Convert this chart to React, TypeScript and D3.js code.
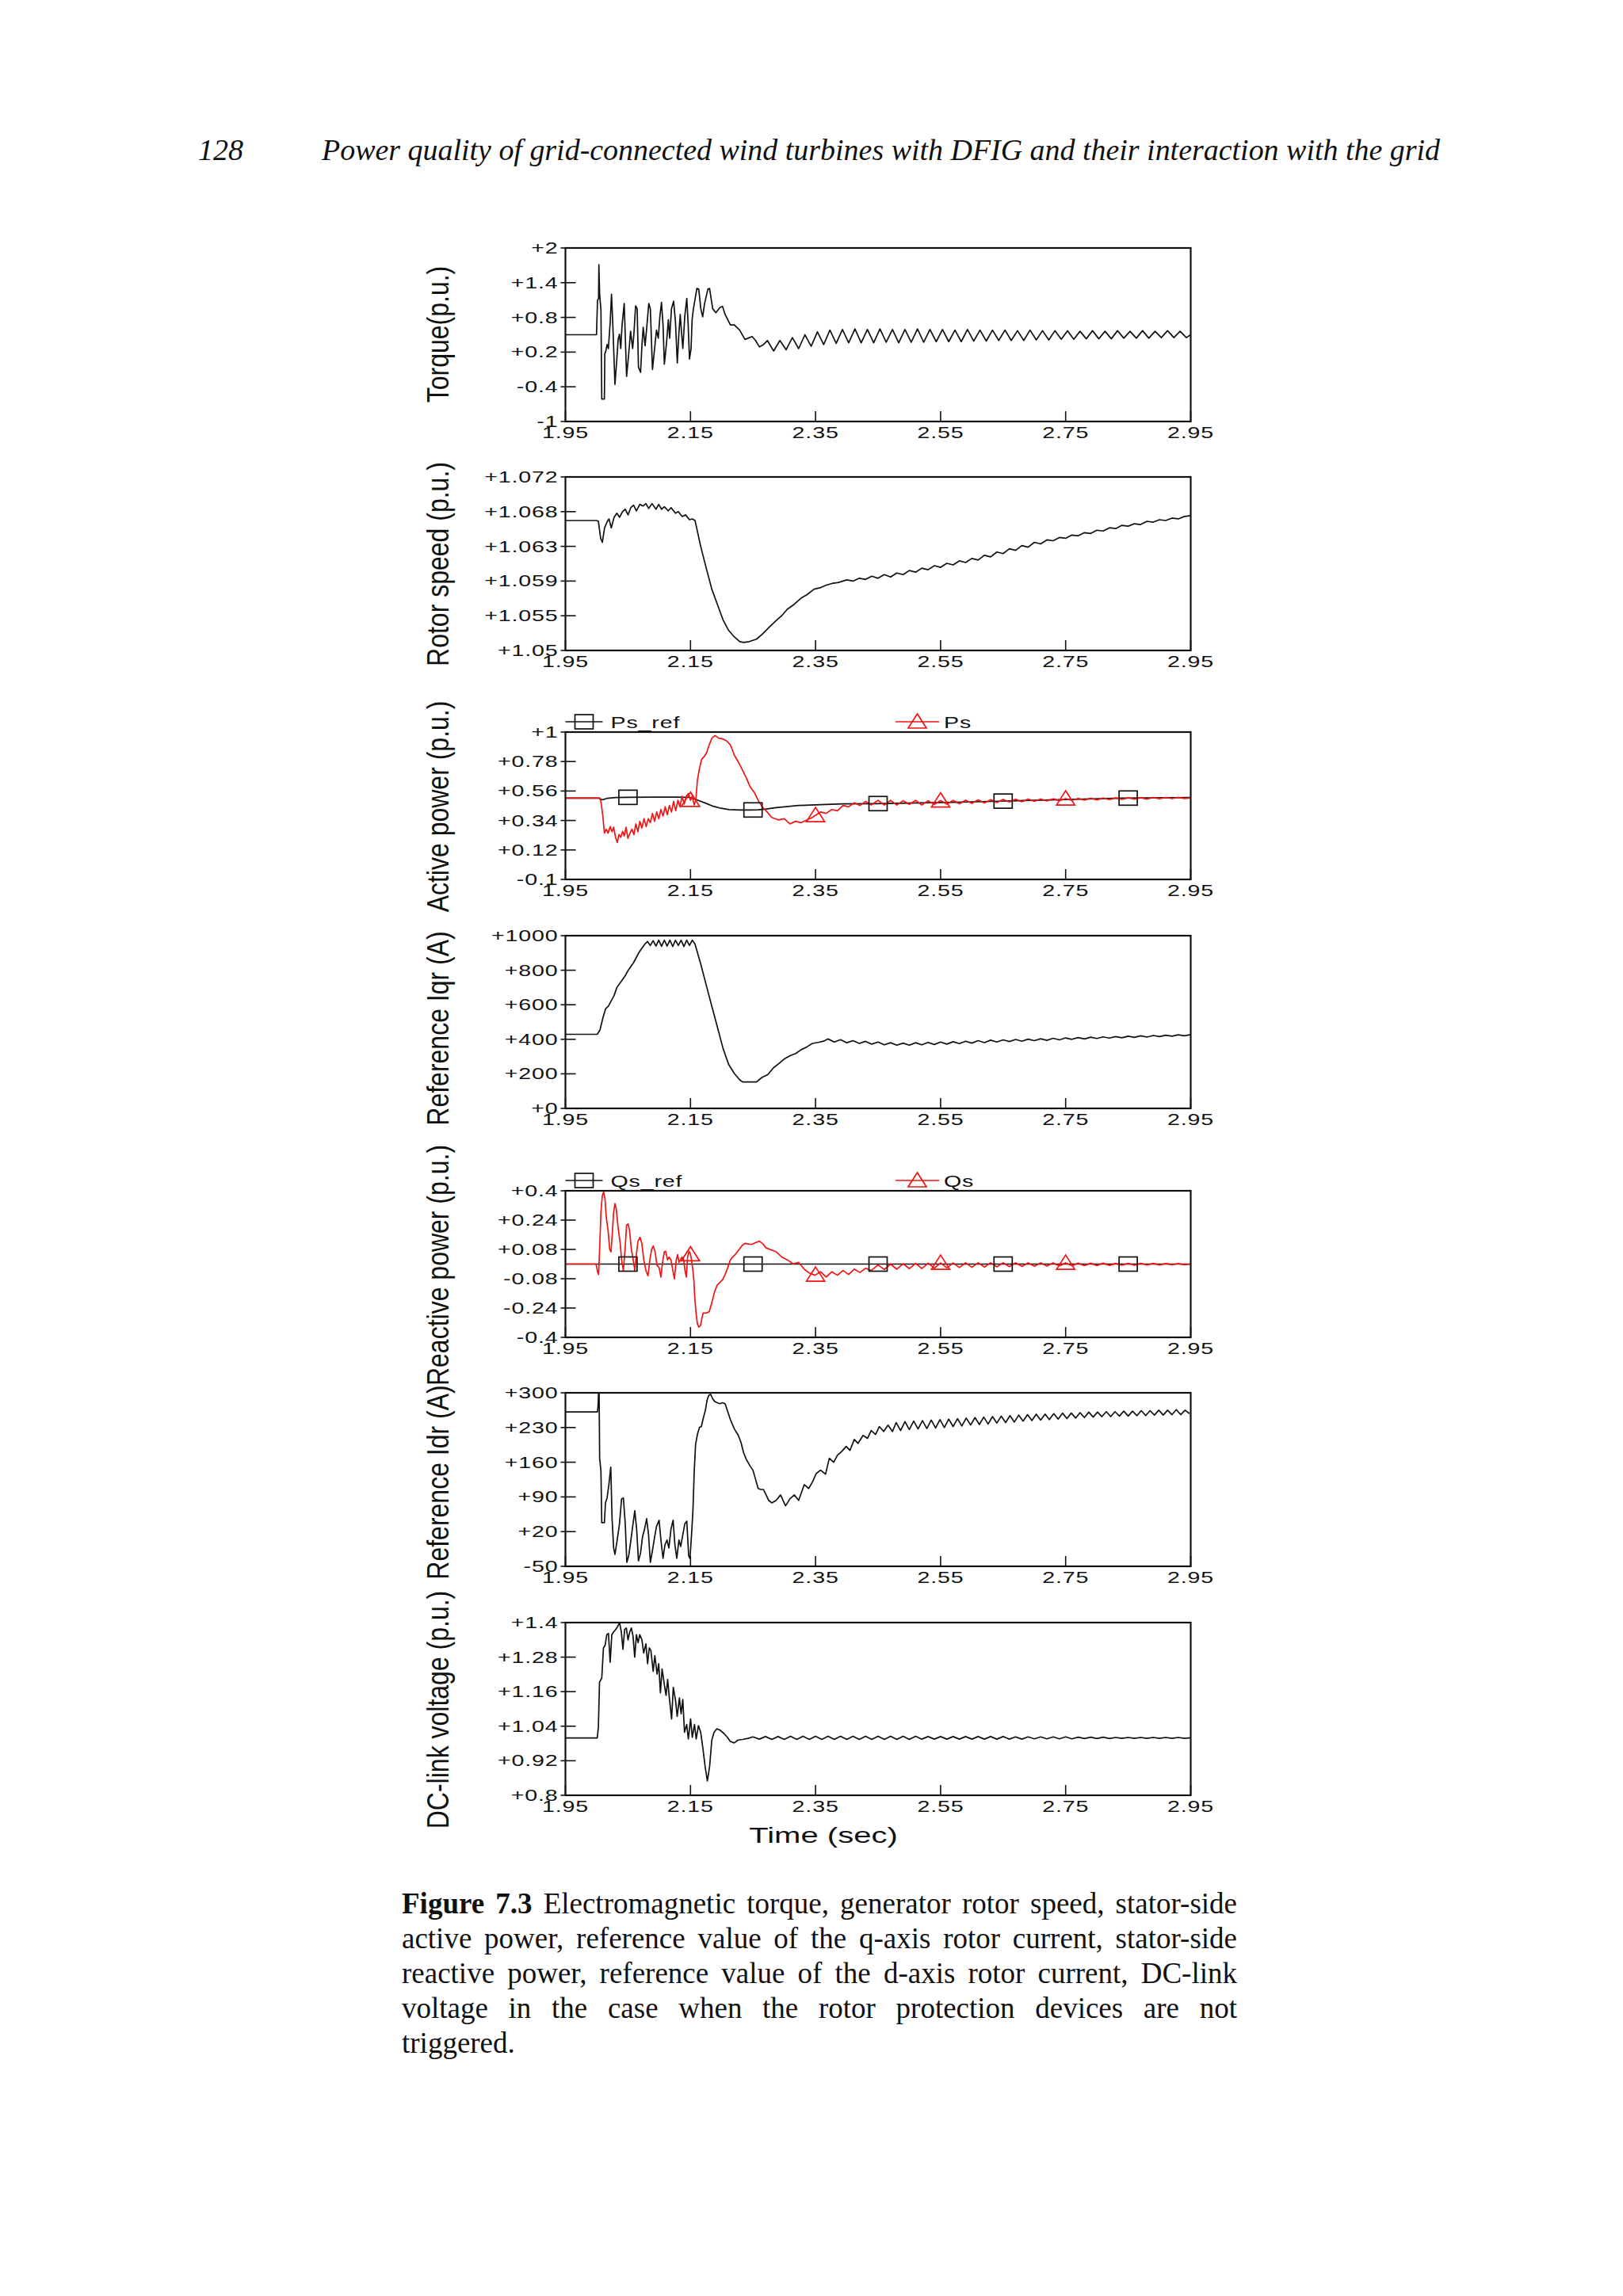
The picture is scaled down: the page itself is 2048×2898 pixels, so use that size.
import React from "react";
import * as d3 from "d3";

type Pt = [number, number];

// ---------- shared time axis ----------
const timeDomain: [number, number] = [1.95, 2.95];
const timeTicks = [1.95, 2.15, 2.35, 2.55, 2.75, 2.95];
const timeTickLabels = ["1.95", "2.15", "2.35", "2.55", "2.75", "2.95"];

// ---------- y axis ticks ----------
const torqueTicks = [2, 1.4, 0.8, 0.2, -0.4, -1];
const torqueTickLabels = ["+2", "+1.4", "+0.8", "+0.2", "-0.4", "-1"];
const speedTicks = [1.072, 1.0677, 1.0634, 1.0591, 1.0548, 1.0505];
const speedTickLabels = ["+1.072", "+1.068", "+1.063", "+1.059", "+1.055", "+1.05"];
const psTicks = [1, 0.78, 0.56, 0.34, 0.12, -0.1];
const psTickLabels = ["+1", "+0.78", "+0.56", "+0.34", "+0.12", "-0.1"];
const iqrTicks = [1000, 800, 600, 400, 200, 0];
const iqrTickLabels = ["+1000", "+800", "+600", "+400", "+200", "+0"];
const qsTicks = [0.4, 0.24, 0.08, -0.08, -0.24, -0.4];
const qsTickLabels = ["+0.4", "+0.24", "+0.08", "-0.08", "-0.24", "-0.4"];
const idrTicks = [300, 230, 160, 90, 20, -50];
const idrTickLabels = ["+300", "+230", "+160", "+90", "+20", "-50"];
const dcTicks = [1.4, 1.28, 1.16, 1.04, 0.92, 0.8];
const dcTickLabels = ["+1.4", "+1.28", "+1.16", "+1.04", "+0.92", "+0.8"];

// ---------- electromagnetic torque ----------
const torqueEarly: Pt[] = [
  [1.95, 0.5], [1.9997, 0.5], [2.0013, 1.1], [2.003, 1.12], [2.0035, 1.71], [2.0047, 1.2],
  [2.0068, 0.92], [2.0081, -0.61], [2.0123, -0.61], [2.013, 0.17], [2.0144, 0.21], [2.0166, 0.33],
  [2.0187, 0.26], [2.0216, 0.72], [2.0237, 1.2], [2.0258, 0.67], [2.0292, -0.36], [2.0322, 0.08],
  [2.0343, 0.42], [2.0364, 0.51], [2.0385, 0.26], [2.0406, 0.67], [2.044, 1.04], [2.0478, -0.22],
  [2.0512, 0.17], [2.0542, 0.56], [2.0575, 0.26], [2.0596, 0.53], [2.0622, 1.0], [2.0647, 0.95],
  [2.0668, -0.06], [2.0702, -0.15], [2.0723, 0.31], [2.0744, 0.63], [2.0774, 0.31], [2.0808, 0.72],
  [2.0833, 1.04], [2.0858, 0.95], [2.0892, -0.1], [2.0926, 0.26], [2.0956, 0.58], [2.0985, 0.44],
  [2.101, 0.81], [2.1036, 1.06], [2.1061, 0.67], [2.1082, -0.01], [2.1116, 0.35], [2.1146, 0.76],
  [2.1167, 0.44], [2.1196, 0.95], [2.123, 1.08], [2.126, 0.72], [2.1289, 0.01], [2.1315, 0.53],
  [2.1336, 0.85], [2.1357, 0.53], [2.1378, 0.26], [2.1408, 0.81], [2.1441, 1.13], [2.1463, 0.67],
  [2.1484, 0.08], [2.1509, 0.26], [2.1526, 0.76], [2.1547, 0.95], [2.1568, 1.08], [2.1602, 1.3],
  [2.1632, 1.29], [2.1665, 0.95], [2.1695, 0.81], [2.1725, 1.04], [2.1779, 1.29], [2.1805, 1.3],
  [2.1855, 0.95], [2.1906, 0.88], [2.197, 0.97], [2.2012, 0.99], [2.2054, 0.85], [2.2138, 0.67],
  [2.2202, 0.67], [2.2286, 0.58], [2.2371, 0.42], [2.2422, 0.44], [2.2485, 0.47], [2.254, 0.4],
  [2.2603, 0.29], [2.2667, 0.33], [2.273, 0.4],
];
const torqueTailStart = 2.283;
const torqueTail = [
  0.22, 0.4, 0.24, 0.45, 0.26, 0.5, 0.3, 0.55, 0.33, 0.58, 0.35, 0.59, 0.36, 0.6, 0.36, 0.59, 0.36,
  0.6, 0.37, 0.59, 0.36, 0.59, 0.37, 0.6, 0.37, 0.59, 0.38, 0.59, 0.38, 0.58, 0.38, 0.59, 0.39, 0.58,
  0.39, 0.58, 0.4, 0.58, 0.4, 0.57, 0.4, 0.58, 0.41, 0.57, 0.41, 0.57, 0.42, 0.57, 0.42, 0.56, 0.43,
  0.57, 0.43, 0.56, 0.43, 0.57, 0.44, 0.56, 0.44, 0.57, 0.44, 0.56, 0.45, 0.57, 0.45, 0.56, 0.45,
];
const torqueEnd: Pt[] = [[2.95, 0.5]];

// ---------- rotor speed ----------
const speedEarly: Pt[] = [
  [1.95, 1.0666], [2.0, 1.0666], [2.0027, 1.0665], [2.0063, 1.0644], [2.009, 1.0639], [2.0126, 1.0657],
  [2.017, 1.0665], [2.0197, 1.0668], [2.0233, 1.0657], [2.0278, 1.067], [2.0322, 1.0675], [2.0367, 1.067],
  [2.0412, 1.0677], [2.0456, 1.068], [2.0501, 1.0673], [2.0546, 1.0682], [2.059, 1.0685], [2.0635, 1.0678],
  [2.0689, 1.0686], [2.0742, 1.0684], [2.0787, 1.0687], [2.0832, 1.0681], [2.0885, 1.0687], [2.0948, 1.068],
  [2.0992, 1.0686], [2.1037, 1.068], [2.1082, 1.0683], [2.1144, 1.0678], [2.1189, 1.0682], [2.126, 1.0675],
  [2.1305, 1.0677], [2.1368, 1.0671], [2.1421, 1.0673], [2.1484, 1.0667], [2.1529, 1.0668], [2.1573, 1.0666],
  [2.1663, 1.0634], [2.1752, 1.0607], [2.1841, 1.0581], [2.1931, 1.0562], [2.202, 1.0543], [2.2109, 1.053],
  [2.2199, 1.0522], [2.2288, 1.0516], [2.2351, 1.0515], [2.244, 1.0516], [2.2556, 1.0519], [2.2646, 1.0525],
  [2.2762, 1.0534], [2.2869, 1.0542], [2.2958, 1.0548], [2.3048, 1.0556], [2.3155, 1.0562], [2.3271, 1.057],
  [2.3361, 1.0574], [2.3477, 1.0581], [2.3584, 1.0583], [2.3673, 1.0586], [2.3763, 1.0588], [2.3852, 1.0589],
];
const speedTailStart = 2.39;
const speedTail = [
  1.059, 1.05925, 1.0591, 1.05945, 1.0593, 1.0597, 1.05945, 1.0599, 1.0596, 1.0601,
  1.0599, 1.0604, 1.0602, 1.0607, 1.0605, 1.061, 1.0608, 1.0613, 1.0611, 1.0616,
  1.0614, 1.0619, 1.0617, 1.0623, 1.0621, 1.0627, 1.0625, 1.0631, 1.0629, 1.0635,
  1.0633, 1.0639, 1.0637, 1.0642, 1.0641, 1.0645, 1.0644, 1.0648, 1.0647, 1.0651,
  1.065, 1.0654, 1.0653, 1.0657, 1.0656, 1.066, 1.0659, 1.0662, 1.0661, 1.0665,
  1.0664, 1.0667, 1.0666, 1.0669, 1.0668, 1.0671, 1.0672,
];

// ---------- stator active power ----------
const psRef: Pt[] = [
  [1.95, 0.507], [2.0047, 0.507], [2.0068, 0.497], [2.0098, 0.495], [2.0166, 0.505], [2.03, 0.511],
  [2.05, 0.513], [2.09, 0.514], [2.13, 0.514], [2.148, 0.512], [2.161, 0.493], [2.1737, 0.47],
  [2.1864, 0.446], [2.199, 0.431], [2.2117, 0.421], [2.2286, 0.418], [2.2455, 0.418], [2.2582, 0.42],
  [2.2709, 0.426], [2.287, 0.436], [2.323, 0.452], [2.358, 0.458], [2.394, 0.464], [2.448, 0.466],
  [2.484, 0.468], [2.573, 0.476], [2.662, 0.486], [2.752, 0.497], [2.841, 0.507], [2.95, 0.511],
];
const psEarly: Pt[] = [
  [1.95, 0.507], [2.0047, 0.507], [2.0068, 0.48], [2.0098, 0.373], [2.0123, 0.245], [2.0153, 0.275],
  [2.0182, 0.245], [2.0216, 0.294], [2.0246, 0.255], [2.0271, 0.29], [2.0301, 0.215], [2.033, 0.176],
  [2.0356, 0.235], [2.0385, 0.215], [2.0415, 0.259], [2.044, 0.225], [2.047, 0.29], [2.0499, 0.206],
  [2.0533, 0.245], [2.0563, 0.275], [2.0596, 0.235], [2.0626, 0.314], [2.066, 0.255], [2.0689, 0.334],
  [2.0723, 0.284], [2.0757, 0.353], [2.0791, 0.294], [2.0825, 0.353], [2.0858, 0.324], [2.0892, 0.393],
  [2.0926, 0.334], [2.096, 0.403], [2.0994, 0.353], [2.1027, 0.422], [2.1061, 0.373], [2.1095, 0.442],
  [2.1129, 0.383], [2.1163, 0.452], [2.1196, 0.403], [2.123, 0.482], [2.1264, 0.413], [2.1298, 0.491],
  [2.1332, 0.442], [2.1365, 0.521], [2.1399, 0.462], [2.1433, 0.521], [2.1467, 0.541], [2.1501, 0.491],
  [2.1526, 0.521], [2.156, 0.456], [2.1585, 0.491], [2.161, 0.639], [2.1644, 0.728], [2.1678, 0.797],
  [2.172, 0.817], [2.1758, 0.846], [2.18, 0.905], [2.1843, 0.955], [2.1894, 0.974], [2.1948, 0.955],
  [2.2012, 0.949], [2.2075, 0.935], [2.2138, 0.905], [2.2202, 0.827], [2.2265, 0.777], [2.2329, 0.718],
  [2.2392, 0.659], [2.2455, 0.59], [2.2519, 0.551], [2.2582, 0.491], [2.2645, 0.442], [2.2709, 0.412],
  [2.28, 0.363], [2.291, 0.344], [2.3, 0.353], [2.309, 0.314], [2.318, 0.334], [2.327, 0.324],
  [2.336, 0.344], [2.345, 0.363], [2.358, 0.403], [2.367, 0.393], [2.376, 0.422], [2.385, 0.412],
  [2.394, 0.452], [2.403, 0.442], [2.412, 0.472], [2.421, 0.452], [2.43, 0.482], [2.439, 0.456],
];
const psTailStart = 2.45;
const psTail = [
  0.49, 0.455, 0.49, 0.455, 0.488, 0.46, 0.49, 0.455, 0.487, 0.46, 0.488, 0.462, 0.49, 0.465, 0.492,
  0.468, 0.494, 0.47, 0.495, 0.474, 0.497, 0.478, 0.498, 0.48, 0.5, 0.483, 0.5, 0.486, 0.502, 0.488,
  0.503, 0.49, 0.505, 0.492, 0.506, 0.494, 0.507, 0.496, 0.508, 0.498, 0.509, 0.5, 0.51, 0.5, 0.511,
  0.502, 0.512, 0.503, 0.512, 0.504, 0.508,
];

// ---------- reference Iqr ----------
const iqrEarly: Pt[] = [
  [1.95, 429], [2.0009, 429], [2.0054, 455], [2.0099, 524], [2.0143, 577], [2.0188, 592], [2.0233, 623],
  [2.0278, 653], [2.0322, 699], [2.0367, 722], [2.0412, 745], [2.0456, 768], [2.0501, 798], [2.0546, 821],
  [2.059, 844], [2.0635, 875], [2.068, 905], [2.0724, 928], [2.0769, 951], [2.0814, 966], [2.0858, 943],
  [2.0903, 971], [2.0948, 940], [2.0992, 974], [2.1037, 939], [2.1082, 974], [2.1126, 940], [2.1171, 974],
  [2.1216, 937], [2.126, 974], [2.1305, 943], [2.135, 974], [2.1395, 937], [2.1439, 974], [2.1484, 943],
  [2.1529, 974], [2.1573, 951], [2.1663, 837], [2.1752, 714], [2.1841, 592], [2.1931, 470], [2.202, 348],
  [2.2109, 256], [2.2199, 203], [2.2288, 165], [2.2333, 153], [2.2556, 153], [2.2646, 180], [2.2735, 195],
  [2.2824, 234], [2.2914, 260], [2.3003, 287], [2.3093, 305], [2.3182, 318], [2.3271, 340], [2.3361, 356],
  [2.345, 376], [2.3539, 382], [2.3629, 389],
];
const iqrTailStart = 2.37;
const iqrTail = [
  402, 384, 398, 380, 392, 376, 388, 372, 384, 368, 380, 366, 378, 366, 380, 368, 382, 370, 384, 372,
  386, 375, 389, 378, 392, 381, 395, 384, 397, 387, 399, 389, 401, 392, 403, 394, 406, 397, 408, 400,
  410, 402, 412, 405, 414, 407, 416, 409, 418, 411, 420, 413, 422, 416, 424, 418, 426, 420, 427,
];

// ---------- stator reactive power ----------
const qsRef: Pt[] = [[1.95, 0], [2.95, 0]];
const qsEarly: Pt[] = [
  [1.95, 0], [1.9984, 0], [1.9997, -0.009], [2.0013, -0.042], [2.003, -0.057], [2.0047, 0.081],
  [2.0068, 0.284], [2.0089, 0.371], [2.011, 0.393], [2.0132, 0.357], [2.0153, 0.255], [2.0182, 0.183],
  [2.0208, 0.081], [2.0229, 0.067], [2.025, 0.168], [2.0271, 0.284], [2.0292, 0.33], [2.0313, 0.299],
  [2.0343, 0.197], [2.0377, 0.11], [2.0398, 0.023], [2.0427, -0.035], [2.0457, 0.096], [2.0478, 0.212],
  [2.0503, 0.219], [2.0525, 0.183], [2.0554, 0.081], [2.0584, 0.023], [2.0609, -0.035], [2.063, 0.038],
  [2.066, 0.125], [2.0694, 0.146], [2.0723, 0.11], [2.0753, 0.023], [2.0787, -0.035], [2.082, -0.064],
  [2.085, 0.023], [2.0879, 0.081], [2.0905, 0.099], [2.0934, 0.067], [2.0964, -0.006], [2.0998, -0.02],
  [2.1027, -0.071], [2.1053, 0.009], [2.1082, 0.067], [2.1103, 0.07], [2.1133, 0.023], [2.1158, 0.038],
  [2.1188, 0.023], [2.1218, -0.035], [2.1243, -0.081], [2.1272, 0.023], [2.1294, 0.052], [2.1315, 0.009],
  [2.134, 0.023], [2.1365, 0.038], [2.1391, 0.023], [2.1412, -0.035], [2.1433, -0.071], [2.1454, 0.038],
  [2.1475, 0.07], [2.1496, 0.059], [2.1517, 0.023], [2.1539, -0.035], [2.1555, -0.093], [2.1568, -0.18],
  [2.1589, -0.267], [2.161, -0.325], [2.1632, -0.344], [2.1661, -0.336], [2.1682, -0.296], [2.1703, -0.267],
  [2.1758, -0.267], [2.18, -0.259], [2.1843, -0.209], [2.1885, -0.151], [2.1927, -0.115], [2.197, -0.1],
  [2.2012, -0.086], [2.2054, -0.057], [2.2096, -0.02], [2.2138, 0.023], [2.2181, 0.041], [2.2223, 0.055],
  [2.2265, 0.074], [2.2329, 0.103], [2.2371, 0.113], [2.2422, 0.11], [2.2477, 0.107], [2.254, 0.117],
  [2.2603, 0.125], [2.2658, 0.11], [2.2709, 0.088], [2.287, 0.067], [2.296, 0.038], [2.305, 0.023],
  [2.314, 0.001], [2.323, 0.009], [2.332, -0.028], [2.34, -0.049], [2.349, -0.061], [2.358, -0.042],
  [2.367, -0.071], [2.376, -0.042], [2.385, -0.061], [2.394, -0.035], [2.403, -0.057], [2.412, -0.028],
  [2.421, -0.046], [2.43, -0.023], [2.439, -0.035],
];
const qsTailStart = 2.45;
const qsTail = [
  -0.005, -0.03, 0.0, -0.028, 0.002, -0.025, 0.004, -0.024, 0.005, -0.022, 0.006, -0.02, 0.006, -0.019,
  0.007, -0.018, 0.007, -0.016, 0.007, -0.015, 0.007, -0.014, 0.007, -0.013, 0.006, -0.012, 0.006,
  -0.011, 0.006, -0.01, 0.006, -0.009, 0.005, -0.008, 0.005, -0.008, 0.005, -0.007, 0.004, -0.006,
  0.004, -0.006, 0.004, -0.005, 0.004, -0.005, 0.003, -0.004, 0.003, -0.004, 0.0,
];

// ---------- reference Idr ----------
const idrEarly: Pt[] = [
  [1.95, 261.6], [2.0013, 261.6], [2.0022, 275], [2.003, 300], [2.0039, 297], [2.0047, 168], [2.0068, 142],
  [2.0081, 38], [2.0123, 38], [2.014, 78], [2.0166, 88], [2.0195, 115], [2.0225, 150], [2.0246, 46],
  [2.0271, -13], [2.0292, -26], [2.0322, -2], [2.0364, 35], [2.0398, 86], [2.0427, 88], [2.0457, 35],
  [2.0482, -42], [2.0512, -29], [2.0542, -2], [2.0575, 30], [2.0609, 62], [2.0639, 25], [2.0668, -39],
  [2.0702, -23], [2.0732, 9], [2.0765, 25], [2.0799, 46], [2.0829, 14], [2.0858, -42], [2.0892, -18],
  [2.0926, 9], [2.0956, 30], [2.0998, 43], [2.1027, 3], [2.1061, -34], [2.1091, -7], [2.1125, 3],
  [2.1154, -13], [2.1188, 25], [2.1222, 43], [2.1251, -7], [2.1281, -34], [2.1315, 3], [2.1344, -10],
  [2.1378, 14], [2.1408, 35], [2.1441, 41], [2.1471, -29], [2.1492, -34], [2.1517, 14], [2.1539, 62],
  [2.156, 142], [2.1581, 195], [2.161, 216], [2.1644, 230], [2.1674, 232], [2.1703, 248], [2.1737, 264],
  [2.1767, 286], [2.1792, 295], [2.1822, 297], [2.1855, 288], [2.1885, 283], [2.1927, 280], [2.197, 278],
  [2.2012, 280], [2.2054, 278], [2.2096, 262], [2.2138, 246], [2.2202, 227], [2.2265, 214], [2.2307, 200],
  [2.235, 179], [2.2392, 166], [2.2455, 152], [2.2498, 144], [2.254, 126], [2.2582, 107], [2.2624, 105],
  [2.2667, 105], [2.2709, 94], [2.2751, 83], [2.28, 78], [2.287, 83], [2.294, 94], [2.302, 72],
  [2.309, 86], [2.316, 94], [2.323, 83], [2.332, 115], [2.339, 107], [2.345, 120], [2.351, 137],
  [2.358, 144], [2.366, 136], [2.372, 168], [2.379, 160], [2.385, 174], [2.392, 182], [2.399, 192],
  [2.405, 184], [2.412, 206], [2.418, 198], [2.426, 214], [2.433, 208], [2.439, 224], [2.446, 216],
  [2.452, 232], [2.459, 222], [2.466, 235], [2.473, 222], [2.479, 240], [2.486, 224],
];
const idrTailStart = 2.493;
const idrTail = [
  242, 226, 243, 227, 244, 228, 245, 229, 246, 230, 247, 232, 248, 233, 249, 235, 250, 236, 251, 237,
  252, 239, 253, 240, 254, 241, 255, 243, 256, 244, 257, 245, 257, 246, 258, 247, 259, 248, 259, 249,
  260, 250, 261, 251, 261, 252, 262, 252, 262, 253, 263, 253, 263, 254, 264, 254, 264, 255, 265, 255,
  265, 256, 266, 256, 265, 258,
];

// ---------- DC-link voltage ----------
const dcEarly: Pt[] = [
  [1.95, 0.999], [2.0009, 0.999], [2.0027, 1.037], [2.0045, 1.193], [2.0081, 1.207], [2.0108, 1.312],
  [2.0135, 1.321], [2.0161, 1.358], [2.0188, 1.362], [2.0215, 1.262], [2.0242, 1.358], [2.0269, 1.367],
  [2.0304, 1.376], [2.0331, 1.385], [2.0367, 1.399], [2.0394, 1.367], [2.042, 1.307], [2.0447, 1.376],
  [2.0474, 1.381], [2.0501, 1.34], [2.0528, 1.367], [2.0555, 1.381], [2.0581, 1.353], [2.0608, 1.28],
  [2.0635, 1.358], [2.0662, 1.33], [2.0689, 1.358], [2.0724, 1.34], [2.0751, 1.294], [2.0787, 1.326],
  [2.0814, 1.257], [2.0841, 1.312], [2.0867, 1.303], [2.0903, 1.23], [2.093, 1.285], [2.0966, 1.221],
  [2.0992, 1.257], [2.1019, 1.156], [2.1046, 1.239], [2.1082, 1.184], [2.1109, 1.147], [2.1135, 1.202],
  [2.1162, 1.138], [2.1198, 1.065], [2.1225, 1.175], [2.1261, 1.129], [2.1287, 1.074], [2.1323, 1.138],
  [2.135, 1.083], [2.1377, 1.133], [2.1404, 1.019], [2.1439, 1.046], [2.1466, 0.996], [2.1502, 1.065],
  [2.1529, 1.001], [2.1564, 1.046], [2.1591, 0.996], [2.1627, 1.042], [2.1663, 1.019], [2.1698, 0.964],
  [2.1734, 0.9], [2.177, 0.85], [2.1806, 0.9], [2.1841, 0.992], [2.1877, 1.019], [2.1922, 1.031],
  [2.1975, 1.026], [2.2038, 1.014], [2.2092, 1.001], [2.2136, 0.987], [2.2199, 0.982], [2.2261, 0.992],
  [2.2333, 0.994], [2.2422, 0.998],
];
const dcTailStart = 2.25;
const dcTail = [
  1.003, 0.995, 1.004, 0.994, 1.004, 0.994, 1.005, 0.994, 1.005, 0.994, 1.005, 0.994, 1.005, 0.994,
  1.005, 0.994, 1.005, 0.994, 1.005, 0.994, 1.005, 0.994, 1.005, 0.994, 1.005, 0.994, 1.005, 0.995,
  1.004, 0.995, 1.004, 0.995, 1.004, 0.995, 1.004, 0.995, 1.004, 0.995, 1.004, 0.995, 1.004, 0.995,
  1.003, 0.995, 1.003, 0.996, 1.003, 0.996, 1.003, 0.996, 1.003, 0.996, 1.002, 0.997, 1.002, 0.997,
  1.002, 0.997, 1.001, 0.998, 1.001, 0.998, 1.001, 0.998, 1.001, 0.998, 1.001, 0.998, 1.001, 0.998, 1.0,
];

const sqMarkerTimes = [2.05, 2.25, 2.45, 2.65, 2.85];
const triMarkerTimes = [2.15, 2.35, 2.55, 2.75];

const fromSteps = (start: number, step: number, values: number[]): Pt[] =>
  values.map((v, i) => [start + i * step, v]);

const torque = [...torqueEarly, ...fromSteps(torqueTailStart, 0.01, torqueTail), ...torqueEnd];
const speed = [...speedEarly, ...fromSteps(speedTailStart, 0.01, speedTail)];
const ps = [...psEarly, ...fromSteps(psTailStart, 0.01, psTail)];
const iqr = [...iqrEarly, ...fromSteps(iqrTailStart, 0.01, iqrTail)];
const qs = [...qsEarly, ...fromSteps(qsTailStart, 0.01, qsTail)];
const idr = [...idrEarly, ...fromSteps(idrTailStart, 0.007, idrTail)];
const dc = [...dcEarly, ...fromSteps(dcTailStart, 0.01, dcTail)];

// ---------- layout ----------
const W = 2048;
const H = 2898;
const LEFT = 713.5;
const RIGHT = 1502.5;
const STRETCH = 1.43;
const SANS = "'Liberation Sans', Arial, sans-serif";
const SERIF = "'Liberation Serif', 'Times New Roman', serif";
const INK = "#111";
const RED = "#f01414";

type Series = { name: string; data: Pt[]; color: string; marker?: "square" | "triangle"; markerTimes?: number[] };
type PanelSpec = {
  key: string;
  top: number;
  bottom: number;
  domain: [number, number];
  ticks: number[];
  tickLabels: string[];
  title: string;
  titleY: number;
  series: Series[];
  legendY?: number;
};

const panels: PanelSpec[] = [
  { key: "torque", top: 313, bottom: 532, domain: [-1, 2], ticks: torqueTicks, tickLabels: torqueTickLabels,
    title: "Torque(p.u.)", titleY: 422, series: [{ name: "T", data: torque, color: INK }] },
  { key: "speed", top: 602, bottom: 821, domain: [1.0505, 1.072], ticks: speedTicks, tickLabels: speedTickLabels,
    title: "Rotor speed (p.u.)", titleY: 712, series: [{ name: "w", data: speed, color: INK }] },
  { key: "ps", top: 924, bottom: 1110, domain: [-0.1, 1], ticks: psTicks, tickLabels: psTickLabels,
    title: "Active power (p.u.)", titleY: 1018, legendY: 911,
    series: [
      { name: "Ps_ref", data: psRef, color: INK, marker: "square", markerTimes: sqMarkerTimes },
      { name: "Ps", data: ps, color: RED, marker: "triangle", markerTimes: triMarkerTimes },
    ] },
  { key: "iqr", top: 1181, bottom: 1399, domain: [0, 1000], ticks: iqrTicks, tickLabels: iqrTickLabels,
    title: "Reference Iqr  (A)", titleY: 1298, series: [{ name: "iqr", data: iqr, color: INK }] },
  { key: "qs", top: 1503, bottom: 1688, domain: [-0.4, 0.4], ticks: qsTicks, tickLabels: qsTickLabels,
    title: "Reactive power (p.u.)", titleY: 1597, legendY: 1490,
    series: [
      { name: "Qs_ref", data: qsRef, color: INK, marker: "square", markerTimes: sqMarkerTimes },
      { name: "Qs", data: qs, color: RED, marker: "triangle", markerTimes: triMarkerTimes },
    ] },
  { key: "idr", top: 1758, bottom: 1977, domain: [-50, 300], ticks: idrTicks, tickLabels: idrTickLabels,
    title: "Reference Idr (A)", titleY: 1871, series: [{ name: "idr", data: idr, color: INK }] },
  { key: "dc", top: 2048, bottom: 2266, domain: [0.8, 1.4], ticks: dcTicks, tickLabels: dcTickLabels,
    title: "DC-link voltage (p.u.)", titleY: 2158, series: [{ name: "vdc", data: dc, color: INK }] },
];

function valueAt(data: Pt[], t: number) {
  const i = d3.bisector((d: Pt) => d[0]).left(data, t);
  if (i <= 0) return data[0][1];
  if (i >= data.length) return data[data.length - 1][1];
  const [t0, v0] = data[i - 1];
  const [t1, v1] = data[i];
  return v0 + ((v1 - v0) * (t - t0)) / (t1 - t0);
}

function Marker({ kind, cx, cy, color }: { kind: "square" | "triangle"; cx: number; cy: number; color: string }) {
  if (kind === "square") {
    return <rect x={cx - 11.5} y={cy - 9} width={23} height={18} fill="none" stroke={color} strokeWidth={1.7} />;
  }
  return (
    <path d={`M${cx},${cy - 10}L${cx + 11.5},${cy + 8}L${cx - 11.5},${cy + 8}Z`} fill="none" stroke={color} strokeWidth={1.7} />
  );
}

function SText({ x, y, anchor = "start", size = 20, children }: { x: number; y: number; anchor?: string; size?: number; children: React.ReactNode }) {
  return (
    <text transform={`translate(${x},${y}) scale(${STRETCH},1)`} textAnchor={anchor} fontSize={size}
      fontFamily={SANS} fill={INK} letterSpacing={0.6}>
      {children}
    </text>
  );
}

function Panel({ p }: { p: PanelSpec }) {
  const x = d3.scaleLinear().domain(timeDomain).range([LEFT, RIGHT]);
  const y = d3.scaleLinear().domain(p.domain).range([p.bottom, p.top]);
  const line = d3.line<Pt>().x((d) => x(d[0])).y((d) => y(d[1]));
  const clipId = `clip-${p.key}`;
  const legendSlots = [
    { x0: LEFT, x1: LEFT + 47, textX: LEFT + 57 },
    { x0: 1130, x1: 1185, textX: 1191 },
  ];

  return (
    <g>
      <defs>
        <clipPath id={clipId}>
          <rect x={LEFT} y={p.top - 1} width={RIGHT - LEFT} height={p.bottom - p.top + 2} />
        </clipPath>
      </defs>
      <g clipPath={`url(#${clipId})`}>
        {p.series.map((s) => (
          <path key={s.name} d={line(s.data) ?? ""} fill="none" stroke={s.color} strokeWidth={1.7} strokeLinejoin="round" />
        ))}
      </g>
      {p.series.map((s) =>
        s.marker && s.markerTimes
          ? s.markerTimes.map((t) => (
              <Marker key={`${s.name}-${t}`} kind={s.marker!} cx={x(t)} cy={y(valueAt(s.data, t))} color={s.color} />
            ))
          : null
      )}
      <rect x={LEFT} y={p.top} width={RIGHT - LEFT} height={p.bottom - p.top} fill="none" stroke={INK} strokeWidth={2.2} />
      {p.ticks.map((v, i) => (
        <g key={`yt${i}`}>
          <line x1={LEFT - 6} x2={LEFT + 13} y1={y(v)} y2={y(v)} stroke={INK} strokeWidth={1.6} />
          <SText x={LEFT - 9} y={y(v) + 7} anchor="end">{p.tickLabels[i]}</SText>
        </g>
      ))}
      {timeTicks.map((t, i) => (
        <g key={`xt${i}`}>
          <line x1={x(t)} x2={x(t)} y1={p.bottom} y2={p.bottom - 13} stroke={INK} strokeWidth={1.6} />
          <SText x={x(t)} y={p.bottom + 21} anchor="middle">{timeTickLabels[i]}</SText>
        </g>
      ))}
      <text transform={`translate(566,${p.titleY}) scale(1.22,1) rotate(-90)`} textAnchor="middle"
        fontSize={32} fontFamily={SANS} fill={INK}>
        {p.title}
      </text>
      {p.legendY !== undefined &&
        p.series.map((s, i) => {
          const slot = legendSlots[i];
          const ly = p.legendY as number;
          return (
            <g key={`lg-${s.name}`}>
              <line x1={slot.x0} x2={slot.x1} y1={ly} y2={ly} stroke={s.color} strokeWidth={1.7} />
              {s.marker && <Marker kind={s.marker} cx={(slot.x0 + slot.x1) / 2} cy={ly} color={s.color} />}
              <SText x={slot.textX} y={ly + 8}>{s.name}</SText>
            </g>
          );
        })}
    </g>
  );
}

// ---------- caption ----------
const CAP_X = 507;
const CAP_W = 1054;
const CAP_Y0 = 2415;
const CAP_DY = 44;
const captionLines: { bold?: string; rest: string; justify: boolean }[] = [
  { bold: "Figure 7.3", rest: " Electromagnetic torque, generator rotor speed, stator-side", justify: true },
  { rest: "active power, reference value of the q-axis rotor current, stator-side", justify: true },
  { rest: "reactive power, reference value of the d-axis rotor current, DC-link", justify: true },
  { rest: "voltage in the case when the rotor protection devices are not", justify: true },
  { rest: "triggered.", justify: false },
];

function Caption() {
  const refs = React.useRef<(SVGTextElement | null)[]>([]);
  React.useLayoutEffect(() => {
    refs.current.forEach((el, i) => {
      const ln = captionLines[i];
      if (!el || !ln.justify) return;
      el.style.wordSpacing = "0px";
      const natural = el.getComputedTextLength();
      const spaces = ((ln.bold ?? "") + ln.rest).split(" ").length - 1;
      const ws = (CAP_W - natural) / spaces;
      if (ws > -4) el.style.wordSpacing = `${ws}px`;
      else {
        el.setAttribute("textLength", String(CAP_W));
        el.setAttribute("lengthAdjust", "spacingAndGlyphs");
      }
    });
  }, []);
  return (
    <g fontFamily={SERIF} fontSize={37} fill={INK}>
      {captionLines.map((ln, i) => (
        <text key={i} ref={(el) => { refs.current[i] = el; }} x={CAP_X} y={CAP_Y0 + i * CAP_DY}>
          {ln.bold && <tspan fontWeight="bold">{ln.bold}</tspan>}
          {ln.rest}
        </text>
      ))}
    </g>
  );
}

export default function App() {
  return (
    <div style={{ position: "absolute", left: 0, top: 0, width: W, height: H, background: "#fff" }}>
      <svg width={W} height={H} viewBox={`0 0 ${W} ${H}`} xmlns="http://www.w3.org/2000/svg">
        <rect x={0} y={0} width={W} height={H} fill="#fff" />
        <text x={250} y={202} fontFamily={SERIF} fontStyle="italic" fontSize={38} fill={INK}>128</text>
        <text x={406} y={202} fontFamily={SERIF} fontStyle="italic" fontSize={38} fill={INK}
          textLength={1411} lengthAdjust="spacingAndGlyphs">
          Power quality of grid-connected wind turbines with DFIG and their interaction with the grid
        </text>
        {panels.map((p) => (
          <Panel key={p.key} p={p} />
        ))}
        <g transform={`translate(1039,2326) scale(${STRETCH},1)`}>
          <text textAnchor="middle" fontSize={28} fontFamily={SANS} fill={INK}>Time (sec)</text>
        </g>
        <Caption />
      </svg>
    </div>
  );
}
